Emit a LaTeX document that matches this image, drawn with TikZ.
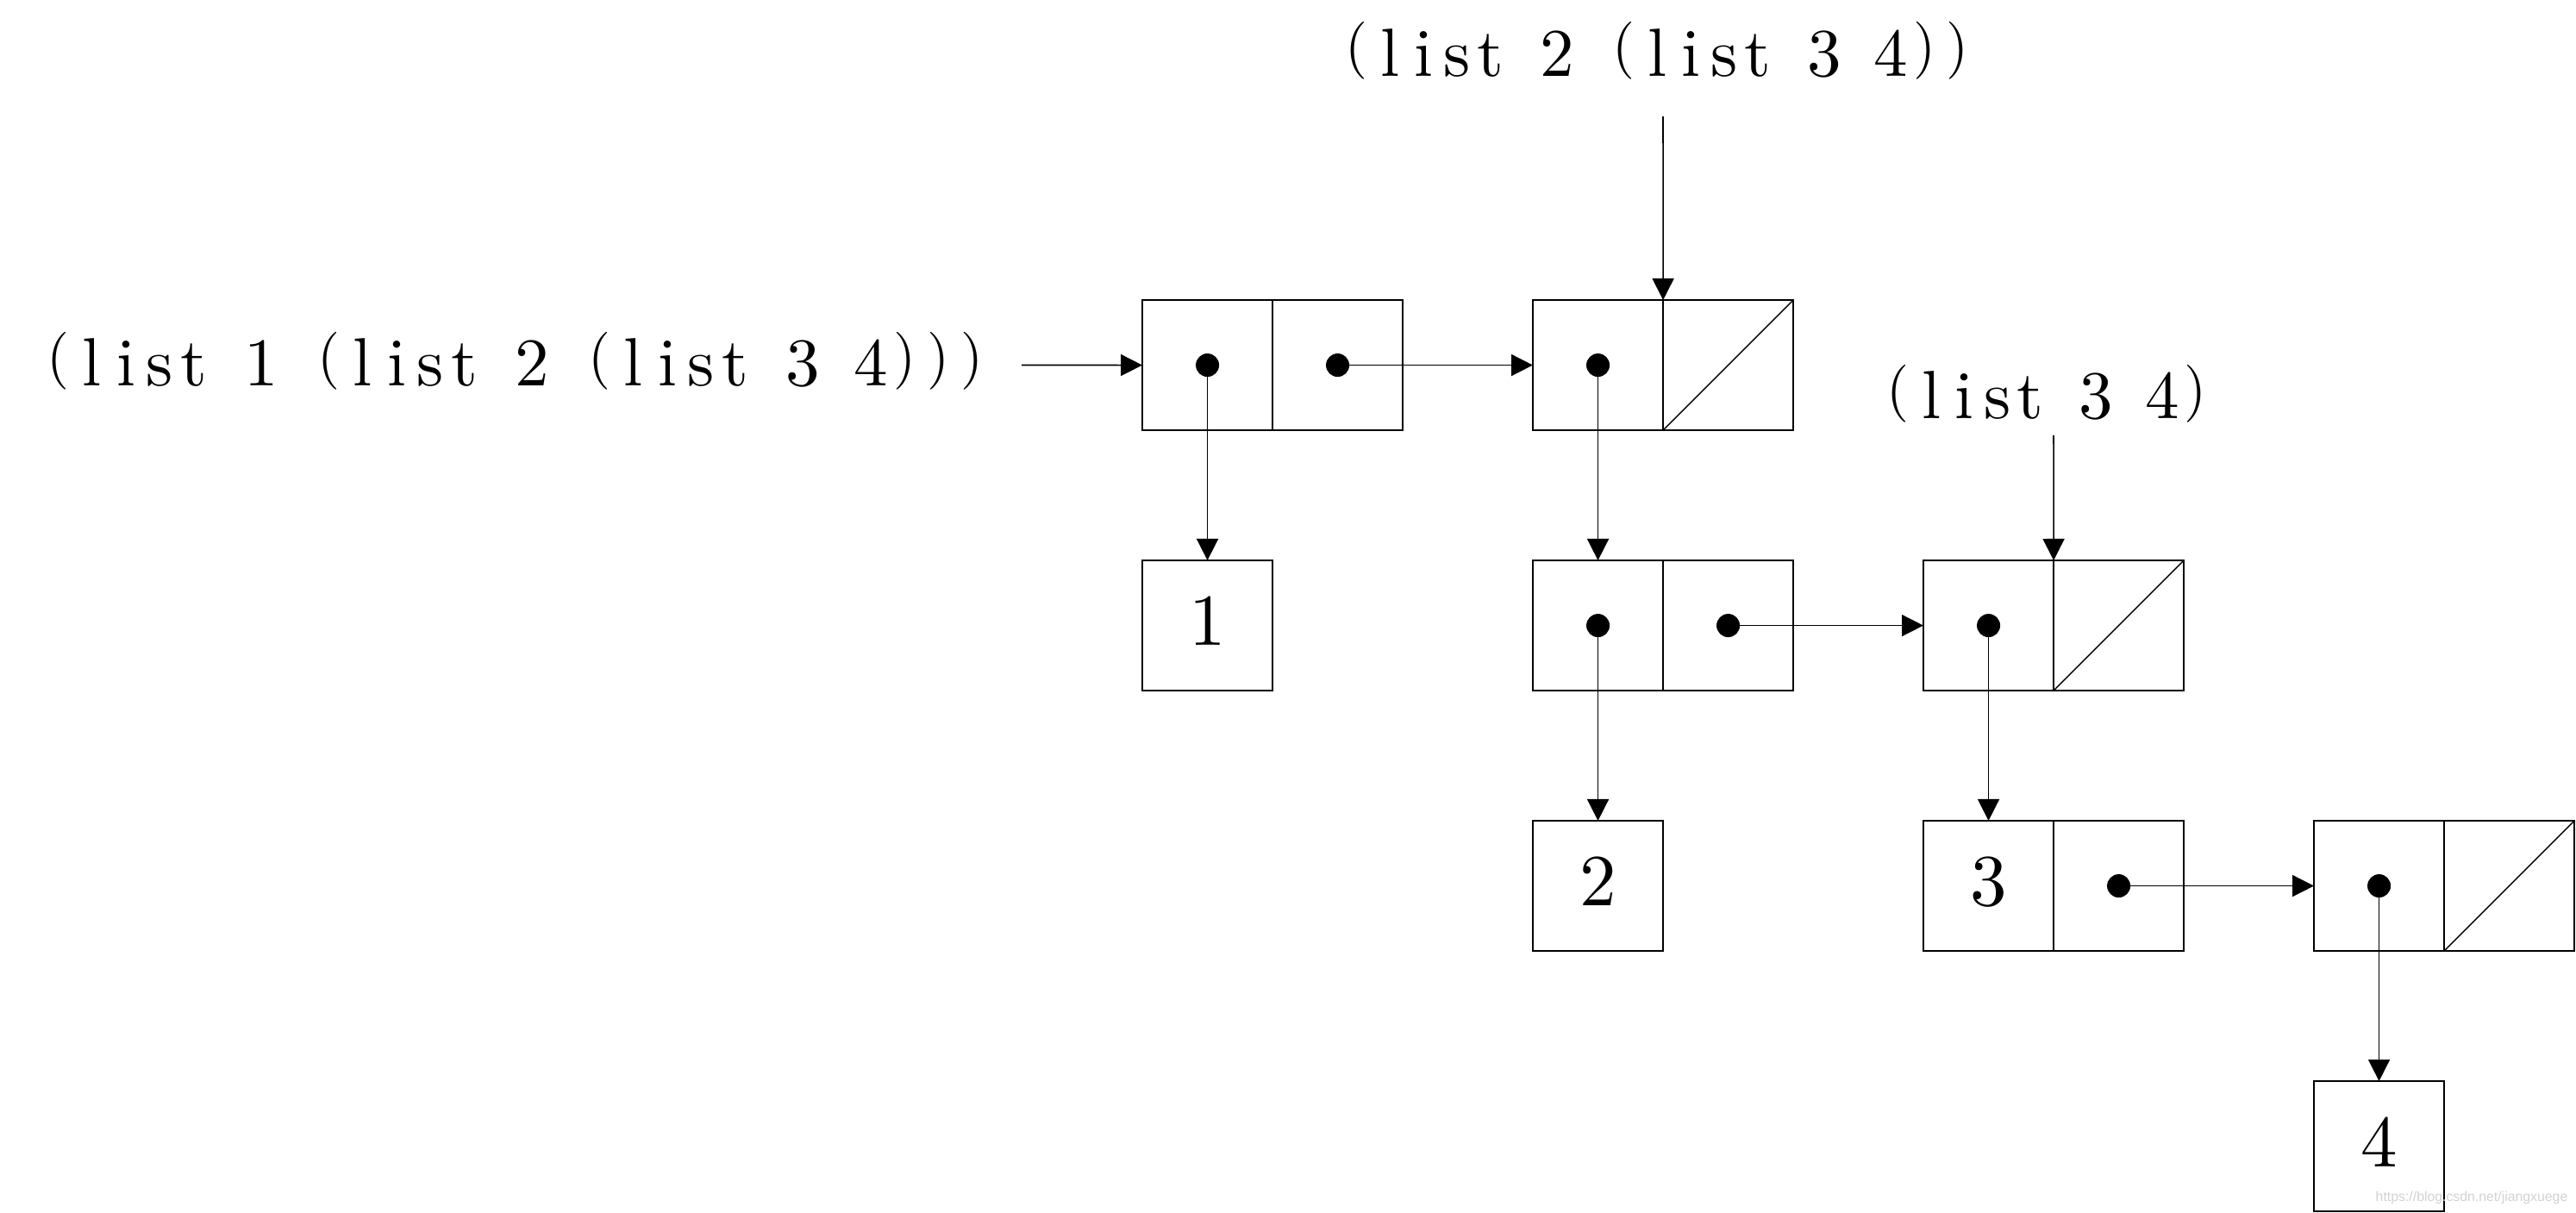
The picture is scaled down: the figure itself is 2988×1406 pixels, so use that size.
\documentclass[tikz,border=0pt]{standalone}
\usepackage{fontspec}
\newfontfamily\wmfont{Liberation Sans}
\newfontfamily\lmten{lmroman10-regular}[Extension=.otf]
\usetikzlibrary{arrows.meta}
\makeatletter
\newcommand\mtext[2]{\def\mt@w{#1}\@tfor\mt@c:=#2\do{\mt@one}}
\def\mt@lp{(}\def\mt@rp{)}
\newcommand\mt@one{\makebox[\mt@w]{\ifx\mt@c\mt@lp\mt@paren\else\ifx\mt@c\mt@rp\mt@paren\else\mt@c\fi\fi}}
\newcommand\mt@paren{\raisebox{0.12cm}{\fontsize{19}{21}\selectfont\mt@c}}
\makeatother
\tikzset{
  cell/.style={draw, line width=0.45pt, rectangle, minimum width=1.51cm, minimum height=1.51cm, inner sep=0pt, outer sep=0pt, anchor=north west},
  valcell/.style={cell, font=\lmten\fontsize{24.2}{26}\selectfont, text depth=0.1cm},
  ptrdot/.style={circle, fill=black, inner sep=0pt, minimum size=0.27cm},
  ptr/.style={line width=0.45pt, -{Triangle[length=0.25cm,width=0.25cm]}},
  nilslash/.style={line width=0.4pt},
  lbl/.style={anchor=base west, inner sep=0pt, outer sep=0pt, font=\lmten\fontsize{22.5}{24}\selectfont},
}
\begin{document}
\begin{tikzpicture}[x=0.01cm,y=-0.01cm]
\useasboundingbox (0,0) rectangle (2988,1406);
% cons cells
\node[cell] (a1) at (1325,348) {};
\node[cell] (a2) at (1476,348) {};
\node[cell] (b1) at (1778,348) {};
\node[cell] (b2) at (1929,348) {};
\node[valcell] (one) at (1325,650) {1};
\node[cell] (c1) at (1778,650) {};
\node[cell] (c2) at (1929,650) {};
\node[cell] (d1) at (2231,650) {};
\node[cell] (d2) at (2382,650) {};
\node[valcell] (two) at (1778,952) {2};
\node[valcell] (e1) at (2231,952) {3};
\node[cell] (e2) at (2382,952) {};
\node[cell] (f1) at (2684,952) {};
\node[cell] (f2) at (2835,952) {};
\node[valcell] (four) at (2684,1254) {4};
% nil slashes
\draw[nilslash] (b2.south west) -- (b2.north east);
\draw[nilslash] (d2.south west) -- (d2.north east);
\draw[nilslash] (f2.south west) -- (f2.north east);
% pointer dots
\node[ptrdot] (a1d) at (a1.center) {};
\node[ptrdot] (a2d) at (a2.center) {};
\node[ptrdot] (b1d) at (b1.center) {};
\node[ptrdot] (c1d) at (c1.center) {};
\node[ptrdot] (c2d) at (c2.center) {};
\node[ptrdot] (d1d) at (d1.center) {};
\node[ptrdot] (e2d) at (e2.center) {};
\node[ptrdot] (f1d) at (f1.center) {};
% pointers
\draw[ptr] (a1d.center) -- (one.north);
\draw[ptr] (a2d.center) -- (b1.west);
\draw[ptr] (b1d.center) -- (c1.north);
\draw[ptr] (c1d.center) -- (two.north);
\draw[ptr] (c2d.center) -- (d1.west);
\draw[ptr] (d1d.center) -- (e1.north);
\draw[ptr] (e2d.center) -- (f1.west);
\draw[ptr] (f1d.center) -- (four.north);
% labels
\node[lbl] (l1) at (47.9,447) {\mtext{0.3924cm}{(list~1~(list~2~(list~3~4)))}};
\node[lbl] (l2) at (1554.6,88) {\mtext{0.387cm}{(list~2~(list~3~4))}};
\node[lbl] (l3) at (2182.5,485) {\mtext{0.383cm}{(list~3~4)}};
\coordinate (s1) at (1185,423.5);
\coordinate (s2) at (1929,135);
\coordinate (s3) at (2382,505);
\draw[ptr] (s1) -- (a1.west);
\draw[ptr] (s2) -- (b1.north east);
\draw[ptr] (s3) -- (d1.north east);
% watermark
\node[anchor=base west, inner sep=0pt, font=\wmfont\fontsize{4.5}{5}\selectfont, text=gray!35] (wm) at (2755,1393) {https://blog.csdn.net/jiangxuege};
\end{tikzpicture}
\end{document}
